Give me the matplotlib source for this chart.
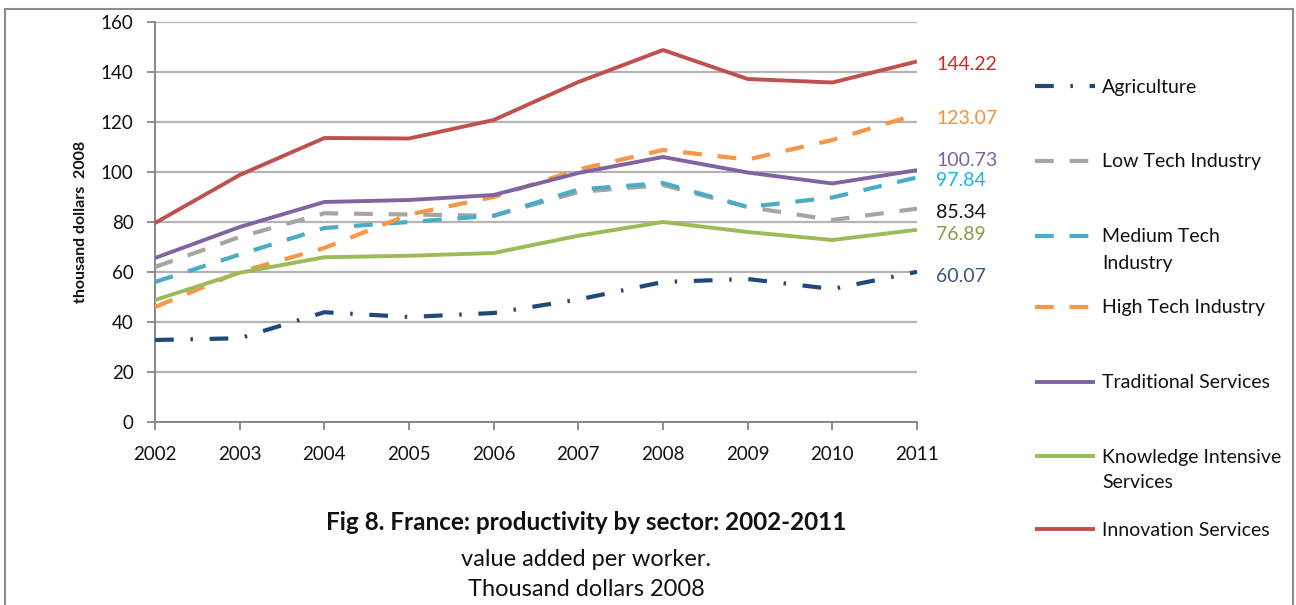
import matplotlib
matplotlib.use("Agg")
import matplotlib.pyplot as plt
from matplotlib.patches import Rectangle

plt.rcParams['font.family'] = ['Lato', 'DejaVu Sans']

years = [2002, 2003, 2004, 2005, 2006, 2007, 2008, 2009, 2010, 2011]

agriculture = [32.8, 33.5, 43.9, 42.0, 43.6, 49.0, 56.0, 57.2, 53.2, 60.07]
low_tech = [62.0, 74.0, 83.5, 83.0, 82.5, 92.0, 94.8, 86.0, 80.8, 85.34]
medium_tech = [56.0, 67.0, 77.6, 80.0, 82.5, 93.0, 95.6, 86.0, 89.8, 97.84]
high_tech = [46.0, 60.0, 69.6, 83.0, 90.0, 101.0, 108.8, 105.0, 112.8, 123.07]
traditional = [65.6, 78.0, 88.0, 88.8, 90.8, 99.6, 106.0, 99.8, 95.4, 100.73]
knowledge = [48.8, 59.7, 65.9, 66.5, 67.6, 74.5, 80.0, 76.0, 72.8, 76.89]
innovation = [79.6, 98.8, 113.6, 113.4, 120.8, 136.0, 148.8, 137.2, 135.8, 144.22]

# legend names: first line next to the key, optional continuation line below
series_names = [("Agriculture", ""), ("Low Tech Industry", ""), ("Medium Tech", "Industry"),
                ("High Tech Industry", ""), ("Traditional Services", ""),
                ("Knowledge Intensive", "Services"), ("Innovation Services", "")]

y_ticks = [0, 20, 40, 60, 80, 100, 120, 140, 160]

W, H = 1296, 605
fig = plt.figure(figsize=(W / 100, H / 100), dpi=100)
ax = fig.add_axes([155 / W, 1 - 422 / H, (917 - 155) / W, 400 / H])

dash = (0, (4.5, 3.8))
styles = [
    dict(color="#1F497D", lw=3.0, ls=(0, (4.5, 4.0, 0.6, 4.0))),
    dict(color="#A5A5A5", lw=3.0, ls=dash),
    dict(color="#4BACC6", lw=3.0, ls=dash),
    dict(color="#F79646", lw=3.0, ls=dash),
    dict(color="#8064A2", lw=2.8, ls="-"),
    dict(color="#9BBB59", lw=2.8, ls="-"),
    dict(color="#C0504D", lw=2.8, ls="-"),
]
data = [agriculture, low_tech, medium_tech, high_tech, traditional, knowledge, innovation]

lines = []
for vals, st in zip(data, styles):
    ln, = ax.plot(years, vals, color=st["color"], lw=st["lw"], ls=st["ls"],
                  solid_capstyle="butt", dash_capstyle="butt", zorder=3)
    lines.append(ln)

ax.set_xlim(2002, 2011)
ax.set_ylim(0, 160)
ax.set_xticks(years)
ax.set_xticklabels([str(y) for y in years])
ax.set_yticks(y_ticks)
ax.tick_params(axis="both", labelsize=13.5, colors="#868686", labelcolor="#111111",
               length=5.5, width=1.3, direction="out")
ax.tick_params(axis="x", pad=12)
ax.tick_params(axis="y", pad=10)
ax.grid(axis="y", color="#B4B4B4", lw=1.6, zorder=0)
for side in ["top", "right"]:
    ax.spines[side].set_visible(False)
for side in ["left", "bottom"]:
    ax.spines[side].set_color("#868686")
    ax.spines[side].set_linewidth(1.4)

ax.set_ylabel("thousand dollars  2008", fontsize=11.5, fontweight="bold",
              family=["Liberation Sans Narrow", "Lato"],
              color="#111111", labelpad=9)

# value labels at the right end of the lines
end_labels = [
    (innovation[-1], "#D42A2A", 143.0),
    (high_tech[-1], "#F7903A", 121.4),
    (traditional[-1], "#7E64A0", 104.4),
    (medium_tech[-1], "#20B0E8", 96.4),
    (low_tech[-1], "#111111", 83.6),
    (knowledge[-1], "#8A9A4A", 75.2),
    (agriculture[-1], "#3A5478", 58.4),
]
for v, c, ypos in end_labels:
    ax.text(2011.23, ypos, f"{v:.2f}", color=c, fontsize=14,
            va="center", ha="left", clip_on=False)

# legend: one key per row, rows evenly spaced down the right side
leg_fs = 14
leg_rows = [87, 162, 237, 308, 383, 457, 530]
key_x, text_x = 1035, 1102
for ln, (first, second), row in zip(lines, series_names, leg_rows):
    leg = fig.legend(handles=[ln], labels=[first], loc="center left",
                     bbox_to_anchor=(key_x / W, 1 - row / H), frameon=False,
                     fontsize=leg_fs, handlelength=3.1, handletextpad=0.36,
                     borderpad=0, borderaxespad=0)
    leg.get_texts()[0].set_color("#111111")
    if second:
        fig.text(text_x / W, 1 - (row + 26) / H, second, fontsize=leg_fs,
                 color="#111111", ha="left", va="center")

fig.text(586 / W, 1 - 523 / H, "Fig 8. France: productivity by sector: 2002-2011",
         ha="center", va="center", fontsize=17.5, fontweight="bold", color="#111111")
fig.text(586 / W, 1 - 560 / H, "value added per worker.",
         ha="center", va="center", fontsize=17, color="#111111")
fig.text(586 / W, 1 - 590 / H, "Thousand dollars 2008",
         ha="center", va="center", fontsize=17, color="#111111")

fig.patches.append(Rectangle((5 / W, -0.02), (1293 - 5) / W, 1.02 - 9 / H,
                             transform=fig.transFigure, fill=False,
                             edgecolor="#8C8C8C", lw=1.5))

fig.savefig("out.png", dpi=100)
